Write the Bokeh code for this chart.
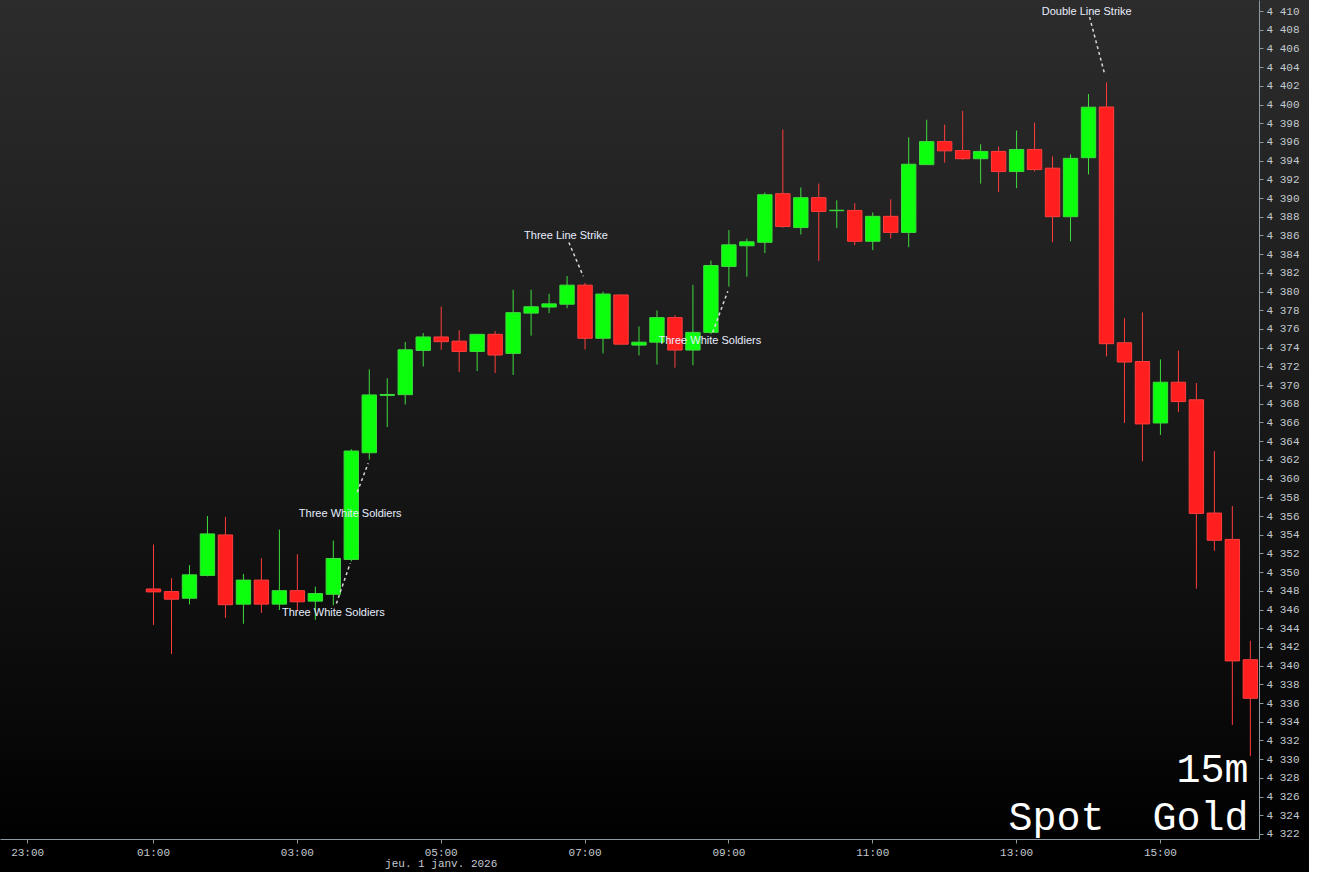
from bokeh.plotting import figure
from bokeh.models import ColumnDataSource, FixedTicker, Range1d, Label
from bokeh.core.properties import value
from bokeh.embed import file_html
from bokeh.resources import INLINE

# ---- 15-minute Spot Gold candles, first candle 01:00 ----
opens = [4348.25, 4347.97, 4347.26, 4349.70, 4354.03, 4346.63, 4349.20, 4346.63, 4348.07, 4346.95,
         4347.68, 4351.41, 4362.82, 4368.95, 4369.03, 4373.76, 4375.20, 4374.75, 4373.65, 4375.48,
         4373.44, 4377.75, 4378.40, 4378.70, 4380.74, 4375.06, 4379.69, 4374.33, 4374.64, 4377.27,
         4373.80, 4375.69, 4382.74, 4384.95, 4385.32, 4390.52, 4386.90, 4390.10, 4388.70, 4388.73,
         4385.43, 4388.10, 4386.38, 4393.63, 4396.09, 4395.14, 4394.26, 4395.04, 4392.89, 4395.25,
         4393.25, 4388.06, 4394.37, 4399.79, 4374.58, 4372.57, 4366.00, 4370.36, 4368.48, 4356.37,
         4353.55, 4340.69]
highs = [4353.00, 4349.40, 4350.80, 4356.06, 4355.96, 4349.86, 4351.54, 4354.59, 4351.96, 4348.49,
         4353.43, 4363.20, 4371.73, 4370.78, 4374.67, 4375.62, 4378.46, 4375.93, 4375.50, 4375.83,
         4380.25, 4380.25, 4379.82, 4381.72, 4380.98, 4380.04, 4379.75, 4376.32, 4378.04, 4377.51,
         4380.77, 4383.37, 4386.63, 4385.71, 4390.65, 4397.38, 4391.18, 4391.60, 4389.81, 4389.50,
         4388.52, 4389.92, 4396.54, 4398.43, 4397.91, 4399.38, 4395.81, 4395.56, 4397.28, 4398.12,
         4394.51, 4394.72, 4401.17, 4402.42, 4377.21, 4377.83, 4372.80, 4373.74, 4370.27, 4362.99,
         4357.12, 4342.71]
lows = [4344.40, 4341.30, 4346.60, 4349.60, 4345.16, 4344.53, 4345.69, 4346.00, 4345.90, 4344.95,
        4346.50, 4351.20, 4362.09, 4365.56, 4367.98, 4372.04, 4373.83, 4371.45, 4371.55, 4371.34,
        4371.13, 4375.34, 4377.75, 4378.28, 4373.86, 4373.44, 4374.40, 4373.23, 4372.25, 4371.91,
        4372.18, 4375.50, 4380.59, 4381.64, 4384.17, 4386.87, 4386.16, 4383.33, 4386.87, 4385.01,
        4384.48, 4385.74, 4384.80, 4393.60, 4393.84, 4394.16, 4391.60, 4390.69, 4391.11, 4392.89,
        4385.32, 4385.43, 4392.58, 4373.13, 4366.00, 4361.91, 4364.73, 4367.17, 4348.29, 4352.33,
        4333.70, 4330.37]
closes = [4347.94, 4347.16, 4349.76, 4354.14, 4346.57, 4349.20, 4346.63, 4348.07, 4346.88, 4347.76,
          4351.51, 4363.00, 4369.00, 4369.05, 4373.83, 4375.20, 4374.70, 4373.65, 4375.48, 4373.27,
          4377.80, 4378.43, 4378.74, 4380.74, 4375.06, 4379.79, 4374.43, 4374.64, 4377.27, 4373.80,
          4375.69, 4382.84, 4385.05, 4385.37, 4390.41, 4387.01, 4390.10, 4388.62, 4388.75, 4385.43,
          4388.10, 4386.38, 4393.67, 4396.09, 4395.10, 4394.26, 4395.04, 4392.89, 4395.25, 4393.10,
          4388.06, 4394.30, 4399.77, 4374.48, 4372.52, 4365.90, 4370.36, 4368.29, 4356.33, 4353.46,
          4340.56, 4336.56]

# time-axis ticks (candle index positions) and labels
x_tick_pos = [-7, 0, 8, 16, 24, 32, 40, 48, 56]
x_tick_labels = ["23:00", "01:00", "03:00", "05:00\njeu. 1 janv. 2026", "07:00", "09:00",
                 "11:00", "13:00", "15:00"]

# price ticks
y_ticks = list(range(4322, 4411, 2))

# pattern annotations
ann_labels = ["Three White Soldiers", "Three White Soldiers", "Three Line Strike",
              "Three White Soldiers", "Double Line Strike"]
ann_text_x = [10.0, 10.94, 22.94, 30.94, 51.9]
ann_text_y = [4345.76, 4356.38, 4386.13, 4374.88, 4410.1]
ann_x0 = [10.17, 11.33, 23.1, 31.1, 52.06]
ann_y0 = [4346.7, 4358.6, 4385.3, 4375.7, 4409.4]
ann_x1 = [10.94, 11.94, 23.9, 31.94, 52.9]
ann_y1 = [4351.0, 4361.7, 4381.7, 4380.1, 4403.3]

GREEN_FILL = "#0cff0c"
GREEN_LINE = "#3ddc3d"
RED_FILL = "#ff1f1f"
RED_LINE = "#ff3d3d"

def build(sel):
    xs, tops, bots, his, los = [], [], [], [], []
    for i, (o, h, l, c) in enumerate(zip(opens, highs, lows, closes)):
        if (c >= o) == sel:
            xs.append(i)
            tops.append(max(o, c))
            bots.append(min(o, c))
            his.append(h)
            los.append(l)
    return ColumnDataSource(dict(x=xs, top=tops, bottom=bots, high=his, low=los))

src_up = build(True)
src_dn = build(False)

y_start, y_end = 4321.46, 4411.18
p = figure(frame_width=1259, frame_height=839,
           x_range=Range1d(-8.51, 61.51), y_range=Range1d(y_start, y_end),
           output_backend="svg", toolbar_location=None, y_axis_location="right",
           min_border_left=0, min_border_top=0, min_border_right=50, min_border_bottom=32,
           background_fill_alpha=0, border_fill_alpha=0, outline_line_color=None,
           styles={"background": "linear-gradient(180deg, #2c2c2c 0%, #1c1c1c 40%, #0a0a0a 80%, #000000 97%, #000000 100%)"})
p.grid.visible = False

# wicks
p.segment(x0="x", y0="high", x1="x", y1="low", source=src_up, line_color=GREEN_LINE, line_width=1)
p.segment(x0="x", y0="high", x1="x", y1="low", source=src_dn, line_color=RED_LINE, line_width=1)
# bodies
p.vbar(x="x", width=0.8, top="top", bottom="bottom", source=src_up,
       fill_color=GREEN_FILL, line_color=GREEN_LINE, line_width=1)
p.vbar(x="x", width=0.8, top="top", bottom="bottom", source=src_dn,
       fill_color=RED_FILL, line_color=RED_LINE, line_width=1)

# annotations
ann_src = ColumnDataSource(dict(tx=ann_text_x, ty=ann_text_y, text=ann_labels,
                                x0=ann_x0, y0=ann_y0, x1=ann_x1, y1=ann_y1))
p.segment(x0="x0", y0="y0", x1="x1", y1="y1", source=ann_src,
          line_color="#d8d8d8", line_width=1.5, line_dash="3 3")
p.text(x="tx", y="ty", text="text", source=ann_src, text_align="center", text_baseline="middle",
       text_font=value("Liberation Sans"), text_font_size="11px", text_color="#e8eeff")

# watermark
p.add_layout(Label(x=60.9, y=y_start + 7.3, text="15m", text_align="right",
                   text_baseline="alphabetic", text_font="Liberation Mono",
                   text_font_size="40px", text_color="#ffffff"))
p.add_layout(Label(x=60.9, y=y_start + 2.1, text="Spot\u00a0\u00a0Gold", text_align="right",
                   text_baseline="alphabetic", text_font="Liberation Mono",
                   text_font_size="40px", text_color="#ffffff"))

AXIS_COLOR = "#8c9aa2"
LABEL_COLOR = "#c3cacf"

# x axis
xa = p.xaxis[0]
xa.ticker = FixedTicker(ticks=x_tick_pos)
xa.major_label_overrides = {pos: lab for pos, lab in zip(x_tick_pos, x_tick_labels)}
xa.axis_line_color = AXIS_COLOR
xa.major_tick_line_color = AXIS_COLOR
xa.major_tick_in = 0
xa.major_tick_out = 4
xa.minor_tick_line_color = None
xa.major_label_standoff = 3
xa.major_label_text_font = "Liberation Mono"
xa.major_label_text_font_size = "11px"
xa.major_label_text_color = LABEL_COLOR
xa.major_label_text_line_height = 0.95

# y axis
ya = p.yaxis[0]
ya.ticker = FixedTicker(ticks=y_ticks)
ya.major_label_overrides = {t: f"{t // 1000} {t % 1000:03d}" for t in y_ticks}
ya.axis_line_color = AXIS_COLOR
ya.major_tick_line_color = AXIS_COLOR
ya.major_tick_in = 0
ya.major_tick_out = 4
ya.minor_tick_line_color = None
ya.major_label_standoff = 3
ya.major_label_text_font = "Liberation Mono"
ya.major_label_text_font_size = "11px"
ya.major_label_text_color = LABEL_COLOR

open("out.html", "w").write(file_html(p, INLINE))
